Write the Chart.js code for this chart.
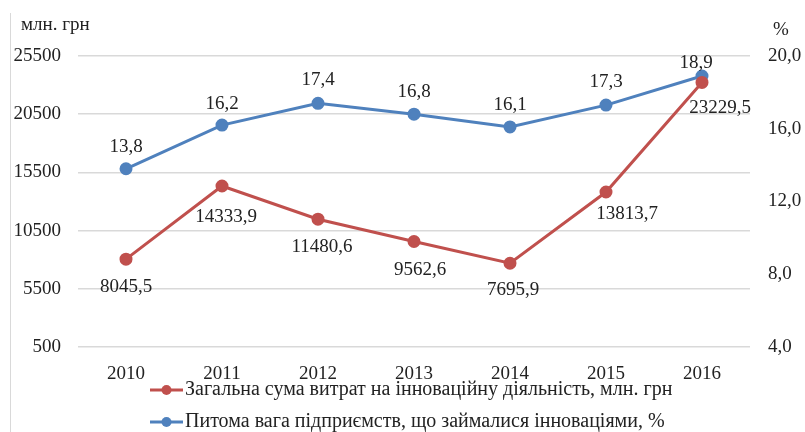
<!DOCTYPE html>
<html>
<head>
<meta charset="utf-8">
<script src="https://cdn.jsdelivr.net/npm/chart.js@4.4.0/dist/chart.umd.min.js"></script>
<style>
html,body{margin:0;padding:0;background:#fff;}
#wrap{width:805px;height:432px;position:relative;}
</style>
</head>
<body>
<div id="wrap"><canvas id="c" width="805" height="432"></canvas></div>
<script>
const categories = ['2010','2011','2012','2013','2014','2015','2016'];
const spendingValues = [8045.5, 14333.9, 11480.6, 9562.6, 7695.9, 13813.7, 23229.5];
const shareValues = [13.8, 16.2, 17.4, 16.8, 16.1, 17.3, 18.9];
const seriesNames = ['Загальна сума витрат на інноваційну діяльність, млн. грн', 'Питома вага підприємств, що займалися інноваціями, %'];
const leftTicks = {min: 500, max: 25500, step: 5000};
const rightTicks = {min: 4, max: 20, step: 4};
const leftTitle = 'млн. грн';
const rightTitle = '%';

const RED = '#C0504D', BLUE = '#4F81BD';
const FONT = '"Liberation Serif", "Times New Roman", serif';
const fmt = v => v.toFixed(1).replace('.', ',');

const labelOffsets = {
  0: [[0,28],[4,31],[4,28],[6,29],[3,27],[21,22],[18,26]],
  1: [[0,-22],[0,-21],[0,-23],[0,-22],[0,-22],[0,-23],[-6,-13]]
};

const extras = {
  id: 'extras',
  afterDatasetsDraw(chart) {
    const ctx = chart.ctx;
    ctx.save();
    ctx.font = '19px ' + FONT;
    ctx.fillStyle = '#222';
    ctx.textAlign = 'center';
    ctx.textBaseline = 'middle';
    chart.data.datasets.forEach((ds, di) => {
      const meta = chart.getDatasetMeta(di);
      meta.data.forEach((pt, i) => {
        const o = labelOffsets[di][i];
        ctx.fillText(fmt(ds.data[i]), pt.x + o[0], pt.y + o[1]);
      });
    });
    ctx.restore();
  },
  afterDraw(chart) {
    const ctx = chart.ctx;
    ctx.save();
    ctx.strokeStyle = '#d9d9d9';
    ctx.lineWidth = 1;
    ctx.beginPath();
    ctx.moveTo(10.5, 13);
    ctx.lineTo(10.5, 432);
    ctx.stroke();
    ctx.fillStyle = '#222';
    ctx.font = '19px ' + FONT;
    ctx.textBaseline = 'middle';
    ctx.textAlign = 'left';
    ctx.fillText(leftTitle, 21, 25);
    ctx.fillText(rightTitle, 773, 30);
    const rows = [[RED, seriesNames[0], 390], [BLUE, seriesNames[1], 422]];
    rows.forEach(r => {
      ctx.strokeStyle = r[0];
      ctx.lineWidth = 3;
      ctx.beginPath();
      ctx.moveTo(150, r[2]);
      ctx.lineTo(183, r[2]);
      ctx.stroke();
      ctx.fillStyle = r[0];
      ctx.beginPath();
      ctx.arc(166.5, r[2], 5, 0, Math.PI * 2);
      ctx.fill();
      ctx.fillStyle = '#222';
      ctx.font = '20px ' + FONT;
      ctx.textAlign = 'left';
      ctx.fillText(r[1], 185, r[2]);
    });
    ctx.restore();
  }
};

new Chart(document.getElementById('c'), {
  type: 'line',
  data: {
    labels: categories,
    datasets: [
      {label: seriesNames[0], data: spendingValues, yAxisID: 'y', borderColor: RED, backgroundColor: RED,
       borderWidth: 3, pointRadius: 5, pointBackgroundColor: RED, pointBorderColor: RED, tension: 0},
      {label: seriesNames[1], data: shareValues, yAxisID: 'y1', borderColor: BLUE, backgroundColor: BLUE,
       borderWidth: 3, pointRadius: 5, pointBackgroundColor: BLUE, pointBorderColor: BLUE, tension: 0}
    ]
  },
  options: {
    responsive: false,
    animation: false,
    devicePixelRatio: 1,
    layout: {padding: {left: 10, right: 0, top: 56, bottom: 0}},
    plugins: {legend: {display: false}, tooltip: {enabled: false}},
    scales: {
      x: {
        offset: true,
        grid: {display: false, drawTicks: false},
        border: {display: false},
        ticks: {color: '#222', font: {family: FONT, size: 19}, padding: 16},
        afterFit(s) { s.height = 85; }
      },
      y: {
        position: 'left',
        min: leftTicks.min, max: leftTicks.max,
        ticks: {stepSize: leftTicks.step, color: '#222', font: {family: FONT, size: 19}, padding: 17,
                callback: v => String(v)},
        grid: {color: '#d9d9d9', lineWidth: 1.5, drawTicks: false},
        border: {display: false},
        afterFit(s) { s.width = 68; }
      },
      y1: {
        position: 'right',
        min: rightTicks.min, max: rightTicks.max,
        ticks: {stepSize: rightTicks.step, color: '#222', font: {family: FONT, size: 19}, padding: 18,
                callback: v => fmt(v)},
        grid: {display: false, drawTicks: false},
        border: {display: false},
        afterFit(s) { s.width = 55; }
      }
    }
  },
  plugins: [extras]
});
</script>
</body>
</html>
